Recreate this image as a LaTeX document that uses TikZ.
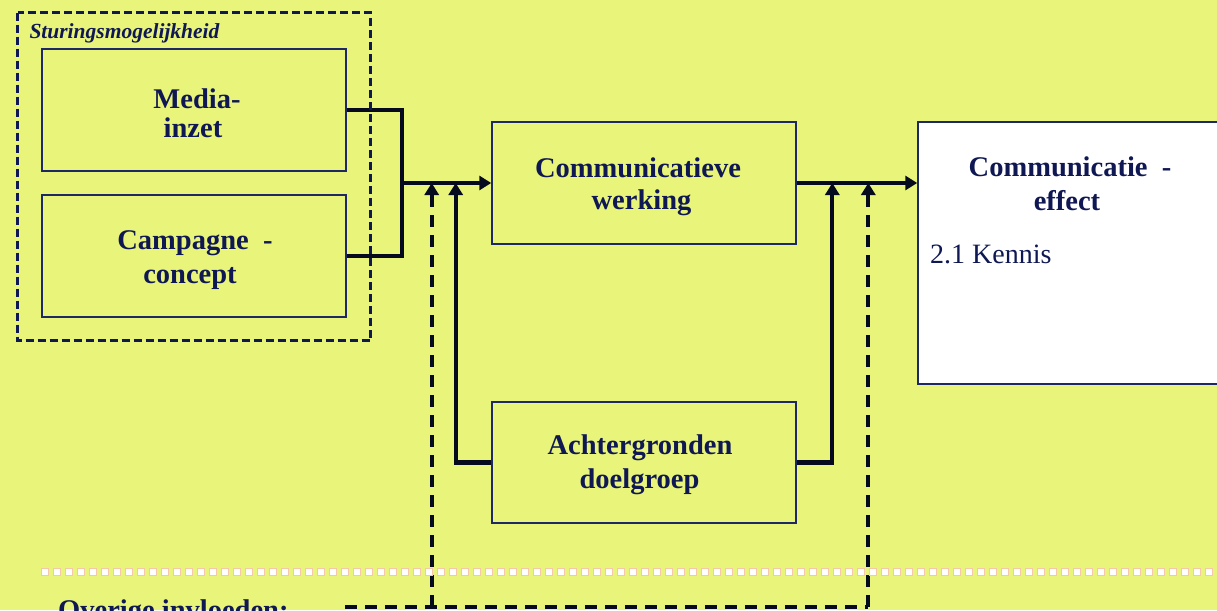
\documentclass[tikz,border=0pt]{standalone}
\usepackage{fontspec}
\setmainfont{Liberation Serif}
\usetikzlibrary{arrows.meta}
\definecolor{bg}{RGB}{232,244,122}
\definecolor{navy}{RGB}{16,24,84}
\definecolor{edge}{RGB}{30,40,100}
\definecolor{ink}{RGB}{6,10,30}
\definecolor{pinkdot}{RGB}{246,200,170}
\tikzset{
  box/.style={draw=edge, line width=1.5pt, inner sep=0pt, minimum width=304pt, minimum height=122pt},
  ttl/.style={anchor=base, inner sep=0pt, text=navy, font=\fontsize{28.5}{30}\selectfont\bfseries},
  conn/.style={draw=ink, line width=4.2pt},
  dconn/.style={draw=ink, line width=4.2pt, dash pattern=on 12pt off 8pt},
  tip/.style={-{Triangle[length=12pt,width=14pt]}},
}
\begin{document}
\begin{tikzpicture}[x=1pt,y=-1pt]
\useasboundingbox (0,0) rectangle (1217,610);
\fill[bg] (0,0) rectangle (1217,610);
\clip (0,0) rectangle (1217,610);

% boxes
\node[box] (media) at (194,110) {};
\node[box] (camp) at (194,256) {};
\node[box] (cw) at (644,183) {};
\node[box, minimum height=121pt] (ad) at (644,462.5) {};
\node[box, fill=white, minimum height=262pt] (ce) at (1070,253) {};

% texts
\node[ttl] (t1a) at (197,108.7) {Media-};
\node[ttl] (t1b) at (193,137.3) {inzet};
\node[ttl] (t2a) at (195,249) {Campagne\ \ -};
\node[ttl] (t2b) at (190,283) {concept};
\node[ttl] (t3a) at (638,177) {Communicatieve};
\node[ttl] (t3b) at (641.5,209.5) {werking};
\node[ttl] (t4a) at (1070,176.7) {Communicatie\ \ -};
\node[ttl] (t4b) at (1067,210.7) {effect};
\node[ttl] (t5a) at (640,454) {Achtergronden};
\node[ttl] (t5b) at (639.5,488.3) {doelgroep};
\node[anchor=base west, inner sep=0pt, text=navy, font=\fontsize{28}{30}\selectfont] (kennis) at (930,263.3) {2.1 Kennis};
\node[anchor=base west, inner sep=0pt, text=navy, font=\fontsize{21.5}{24}\selectfont\bfseries\itshape] (stur) at (29.3,38.3) {Sturingsmogelijkheid};
\node[ttl, anchor=base west] (overig) at (58,619) {Overige invloeden:};

% junction coordinates
\coordinate (j1) at (402,183);
\coordinate (j2) at (455.7,183);
\coordinate (j3) at (832.3,183);
\coordinate (d1) at (431.7,183);
\coordinate (d2) at (868.3,183);
\coordinate (b0) at (345,606.7);
\coordinate (b1) at (431.7,606.7);
\coordinate (b2) at (868.3,606.7);

% connectors
\draw[conn] (media.east) -| (j1);
\draw[conn] (camp.east) -| (j1);
\draw[conn, tip] (j1) -- (cw.west);
\draw[conn, tip] (cw.east) -- (ce.west |- cw.east);
\draw[conn, tip] (ad.west) -| (j2);
\draw[conn, tip] (ad.east) -| (j3);

% dashed influences
\draw[dconn] (b0) -- (b2);
\draw[dconn, tip] (b1) -- (d1);
\draw[dconn, tip] (b2) -- (d2);

% dotted separator
\draw[pinkdot, line width=8pt, dash pattern=on 8pt off 4pt] (41,571.7) -- (1217,571.7);
\draw[white, line width=6pt, dash pattern=on 6pt off 6pt] (42,571.7) -- (1217,571.7);

% steering group frame
\draw[navy, line width=2.6pt, dash pattern=on 8pt off 4pt] (17.7,12.7) rectangle (370.7,340.7);
\end{tikzpicture}
\end{document}
